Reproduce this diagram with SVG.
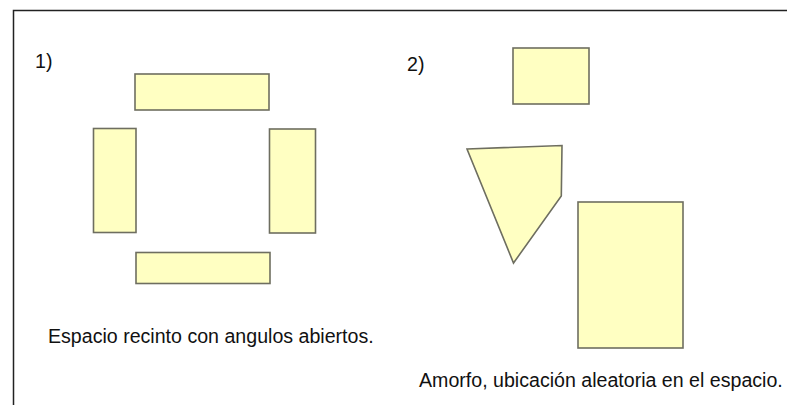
<svg xmlns="http://www.w3.org/2000/svg" width="787" height="405" viewBox="0 0 787 405">
<style>
.s{fill:#ffffc2;stroke:#6e6e60;stroke-width:1.6}
.t{font-family:"Liberation Sans",Arial,sans-serif;font-size:19.6px;fill:#111}
</style>
<rect width="787" height="405" fill="#fff"/>
<path d="M13.5 410 V10.5 H790" fill="none" stroke="#222" stroke-width="1.5"/>
<g id="label1"><text class="t" x="35" y="68">1)</text></g>
<g id="r-top"><rect class="s" x="135" y="74" width="134" height="36"/></g>
<g id="r-left"><rect class="s" x="93.5" y="128.5" width="42.5" height="104"/></g>
<g id="r-right"><rect class="s" x="269.5" y="129" width="46" height="104"/></g>
<g id="r-bottom"><rect class="s" x="136" y="252.5" width="134" height="31"/></g>
<g id="caption1"><text class="t" x="48" y="343">Espacio recinto con angulos abiertos.</text></g>
<g id="label2"><text class="t" x="407" y="71">2)</text></g>
<g id="r-small"><rect class="s" x="513" y="48" width="76" height="56"/></g>
<g id="quad"><polygon class="s" points="467,149 562,145.5 561.3,196 513.5,263"/></g>
<g id="r-big"><rect class="s" x="578" y="202" width="105" height="146"/></g>
<g id="caption2"><text class="t" x="419" y="387">Amorfo, ubicación aleatoria en el espacio.</text></g>
<g id="connectors"/>
</svg>
